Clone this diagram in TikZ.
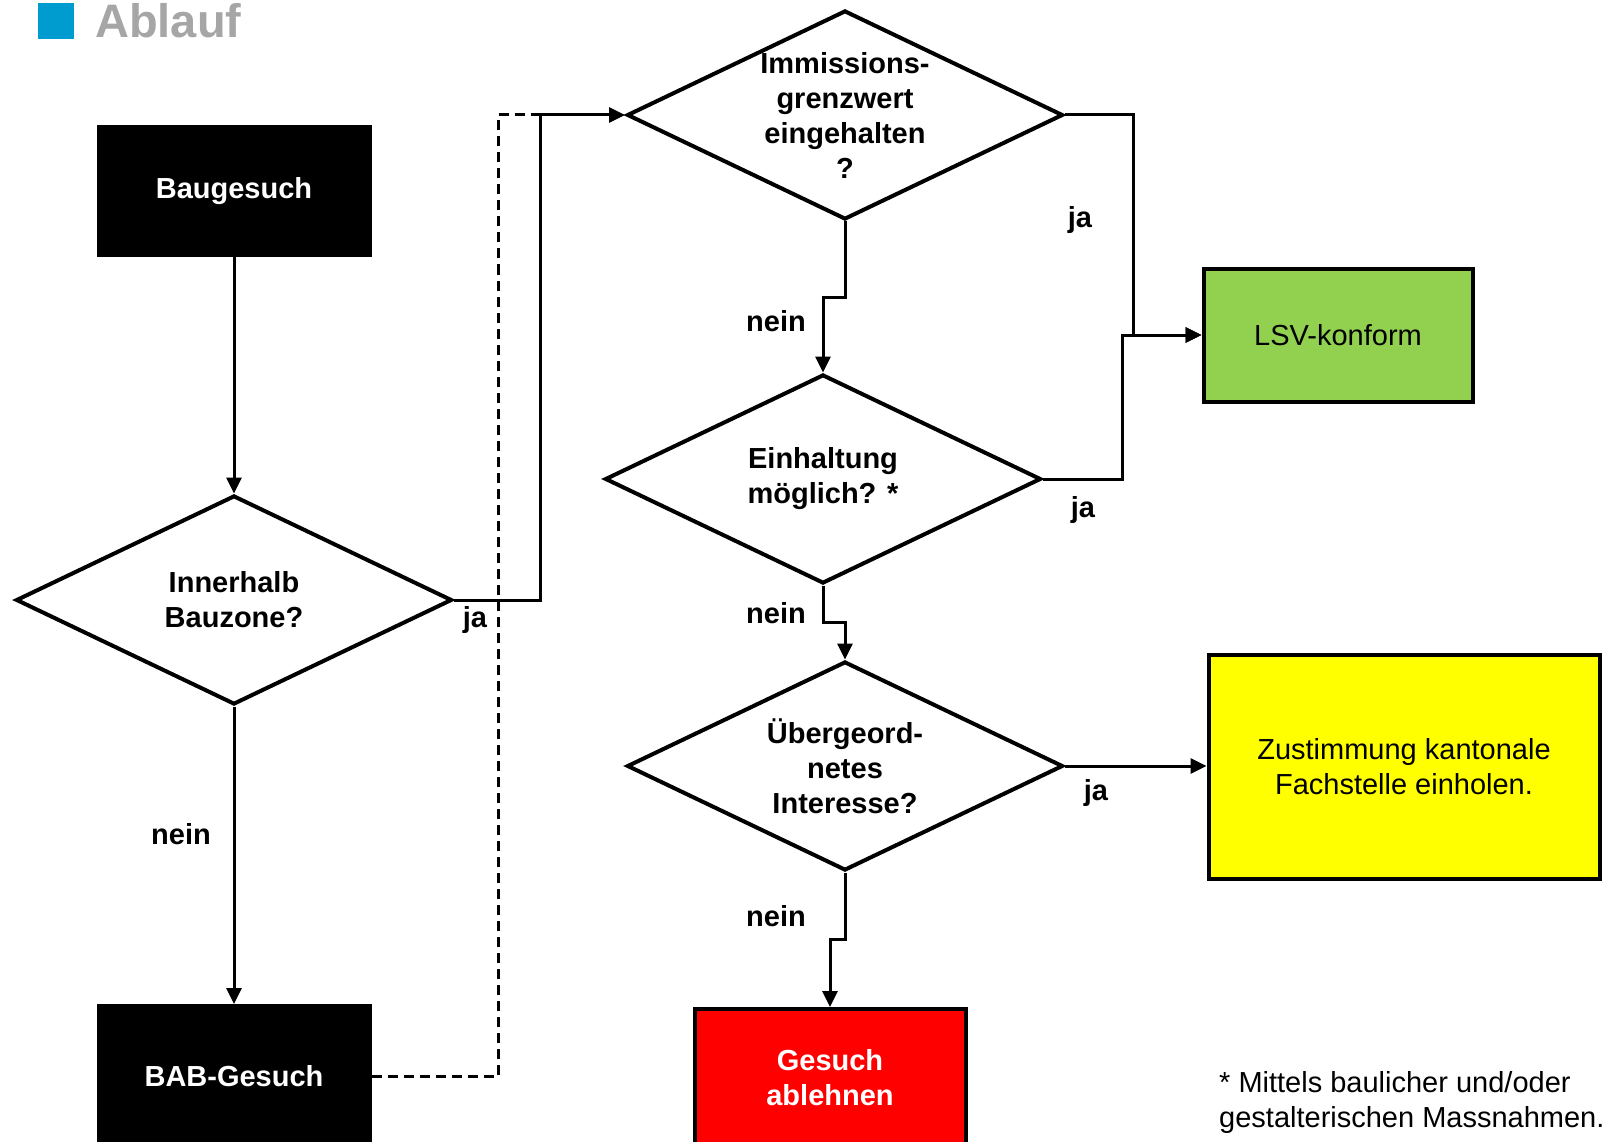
\documentclass[tikz,border=0pt]{standalone}
\usepackage{fontspec}
\setmainfont{Liberation Sans}
\usetikzlibrary{shapes.geometric,arrows.meta}
\definecolor{lsvgreen}{RGB}{146,208,80}
\definecolor{zustyellow}{RGB}{255,255,0}
\definecolor{titlegrey}{RGB}{166,166,166}
\definecolor{titleblue}{RGB}{0,156,208}
\begin{document}
\begin{tikzpicture}[x=1pt,y=-1pt,line join=miter,>={Triangle[length=16pt,width=15pt]},
  font=\fontsize{29}{35}\selectfont,
  box/.style={draw=black,line width=4pt,minimum width=271pt,minimum height=133pt,align=center,inner sep=0pt},
  decision/.style={diamond,draw=black,line width=4pt,minimum width=436pt,minimum height=209pt,inner sep=0pt},
  dtext/.style={align=center,font=\fontsize{29}{35}\selectfont\bfseries},
  answer/.style={font=\fontsize{29}{35}\selectfont\bfseries},
  flow/.style={line width=3pt,->},
  bablink/.style={line width=3pt,dash pattern=on 10pt off 6pt}]
\useasboundingbox (0,0) rectangle (1612,1142);
% Titel
\fill[titleblue] (38,3) rectangle (74,39);
\node[anchor=base west,inner sep=0pt,text=titlegrey,font=\fontsize{47}{56}\selectfont\bfseries] (titel) at (95,38) {Ablauf};
% Kästen
\node[box,fill=black,text=white,font=\fontsize{29}{35}\selectfont\bfseries,minimum height=128pt] (bau) at (234,191) {Baugesuch};
\node[box,fill=black,text=white,font=\fontsize{29}{35}\selectfont\bfseries,minimum height=140pt] (bab) at (234,1076) {BAB-Gesuch};
\node[box,fill=lsvgreen,minimum width=269pt] (lsv) at (1338,335) {LSV-konform};
\node[box,fill=zustyellow,minimum width=391pt,minimum height=224pt] (zust) at (1404,767) {Zustimmung kantonale\\Fachstelle einholen.};
\node[box,fill=red,text=white,font=\fontsize{29}{35}\selectfont\bfseries,minimum height=138pt] (abl) at (830,1078) {Gesuch\\ablehnen};
% Rauten
\node[decision] (inner) at (234,600) {};
\node[dtext] (innerT) at (inner) {Innerhalb\\Bauzone?};
\node[decision] (imm) at (845,115) {};
\node[dtext] (immT) at (imm) {Immissions-\\grenzwert\\eingehalten\\?};
\node[decision] (ein) at (823,479) {};
\node[dtext] (einT) at (ein) {Einhaltung\\möglich? *};
\node[decision] (ueb) at (845,766) {};
\node[dtext] (uebT) at (ueb) {Übergeord-\\netes\\Interesse?};
% Verbindungen
\coordinate (join) at (540,115);
\coordinate (lsvA) at (1133,335);
\coordinate (lsvB) at (1122,335);
\draw[flow] (bau) -- (inner);
\draw[flow] (inner) -- (bab);
\draw[flow] (inner.east) -| (join) -- (imm.west);
\draw[bablink] (bab.east) -| (498,115) -- (join);
\draw[flow] (imm.south) -- ++(0,76) -| (ein.north);
\draw[flow] (imm.east) -| (lsvA) -- (lsv.west);
\draw[flow] (ein.east) -| (lsvB) -- (lsv.west);
\draw[flow] (ein.south) -- ++(0,37) -| (ueb.north);
\draw[flow] (ueb.east) -- (ueb.east -| zust.west);
\draw[flow] (ueb.south) -- ++(0,67) -| (abl.north);
% ja / nein
\node[answer] (nein1) at (181,834) {nein};
\node[answer] (ja1) at (475,620) {ja};
\node[answer] (nein2) at (776,321) {nein};
\node[answer] (ja2) at (1080,220) {ja};
\node[answer] (ja3) at (1083,510) {ja};
\node[answer] (nein3) at (776,613) {nein};
\node[answer] (ja4) at (1096,793) {ja};
\node[answer] (nein4) at (776,916) {nein};
% Fussnote
\node[anchor=north west,align=left,inner sep=0pt] (fussnote) at (1219,1071) {* Mittels baulicher und/oder\\gestalterischen Massnahmen.};
\end{tikzpicture}
\end{document}
